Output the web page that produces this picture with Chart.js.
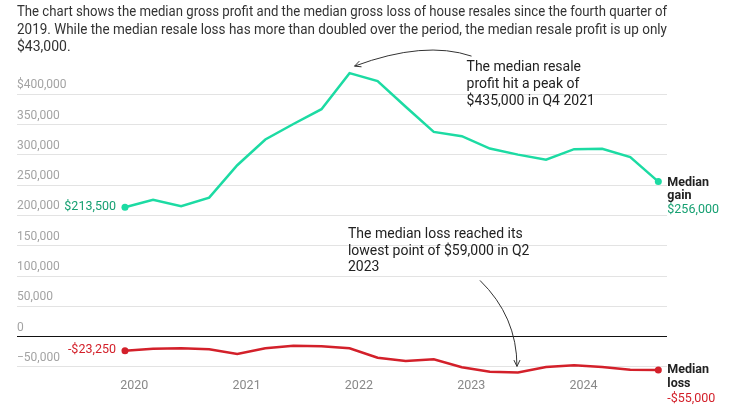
<!DOCTYPE html>
<html>
<head>
<meta charset="utf-8">
<script src="https://cdn.jsdelivr.net/npm/chart.js@4"></script>
<style>
  html, body { margin: 0; padding: 0; background: #fff; }
  #wrap { width: 738px; height: 412px; position: relative; }
</style>
</head>
<body>
<div id="wrap"><canvas id="myChart" width="738" height="412"></canvas></div>
<script>
// quarterly data, Q4 2019 .. Q3 2024
const quarters = ['Q4 2019', 'Q1 2020', 'Q2 2020', 'Q3 2020', 'Q4 2020', 'Q1 2021', 'Q2 2021', 'Q3 2021',
    'Q4 2021', 'Q1 2022', 'Q2 2022', 'Q3 2022', 'Q4 2022', 'Q1 2023', 'Q2 2023', 'Q3 2023',
    'Q4 2023', 'Q1 2024', 'Q2 2024', 'Q3 2024'];
const medianGain = [213500, 226000, 215500, 229500, 283000, 325500, 351000, 375500,
    435000, 422000, 379500, 338000, 331000, 310500, 300500, 292000,
    309500, 310000, 296500, 256000];
const medianLoss = [-23250, -19800, -19300, -20900, -28600, -19300, -14900, -16000,
    -19300, -34700, -40100, -37400, -50600, -57800, -59000, -50000,
    -47400, -50000, -54500, -55000];
const yTicks = [-50000, 0, 50000, 100000, 150000, 200000, 250000, 300000, 350000, 400000];
const yTickLabels = ['\u221250,000', '0', '50,000', '100,000', '150,000', '200,000', '250,000', '300,000', '350,000', '$400,000'];
const xTicks = [2020, 2021, 2022, 2023, 2024];
const xTickLabels = ['2020', '2021', '2022', '2023', '2024'];

const title = [
    'The chart shows the median gross profit and the median gross loss of house resales since the fourth quarter of',
    '2019. While the median resale loss has more than doubled over the period, the median resale profit is up only',
    '$43,000.'
];

const GREEN = '#1cdba3';
const GREEN_TXT = '#16a072';
const RED = '#d3202a';
const FONT = 'Roboto, "Noto Sans", sans-serif';

// quarter -> position on the year axis (last month of the quarter)
function quarterPos(q) {
    const parts = q.split(' ');
    const n = parseInt(parts[0].substring(1));
    return parseInt(parts[1]) + (3 * n - 1) / 12;
}
const gainPts = quarters.map((q, i) => ({ x: quarterPos(q), y: medianGain[i] }));
const lossPts = quarters.map((q, i) => ({ x: quarterPos(q), y: medianLoss[i] }));

function fmt(v) {
    const s = '$' + Math.abs(v).toLocaleString('en-US');
    return v < 0 ? '-' + s : s;
}

function lines(ctx, arr, x, y, lh) {
    arr.forEach((t, i) => ctx.fillText(t, x, y + i * lh));
}

function arrowHead(ctx, x, y, ang) {
    const len = 7;
    ctx.beginPath();
    ctx.moveTo(x + len * Math.cos(ang - 0.45), y + len * Math.sin(ang - 0.45));
    ctx.lineTo(x, y);
    ctx.lineTo(x + len * Math.cos(ang + 0.45), y + len * Math.sin(ang + 0.45));
    ctx.stroke();
}

const labelsPlugin = {
    id: 'labelsPlugin',
    afterDatasetsDraw(chart) {
        const ctx = chart.ctx;
        const xs = chart.scales.x, ys = chart.scales.y;
        const last = quarters.length - 1;
        ctx.save();
        ctx.textBaseline = 'middle';

        // start values
        ctx.font = '12.5px ' + FONT;
        ctx.textAlign = 'right';
        ctx.fillStyle = GREEN_TXT;
        ctx.fillText(fmt(medianGain[0]), xs.getPixelForValue(gainPts[0].x) - 9, ys.getPixelForValue(medianGain[0]));
        ctx.fillStyle = RED;
        ctx.fillText(fmt(medianLoss[0]), xs.getPixelForValue(lossPts[0].x) - 9, ys.getPixelForValue(medianLoss[0]) - 1);

        // end labels
        const ex = xs.getPixelForValue(gainPts[last].x) + 9;
        const gy = ys.getPixelForValue(medianGain[last]) + 1;
        const ly = ys.getPixelForValue(medianLoss[last]);
        ctx.textAlign = 'left';
        ctx.font = 'bold 12.5px ' + FONT;
        ctx.fillStyle = '#222';
        lines(ctx, ['Median', 'gain'], ex, gy, 13.5);
        lines(ctx, ['Median', 'loss'], ex, ly, 14);
        ctx.font = '12.5px ' + FONT;
        ctx.fillStyle = GREEN_TXT;
        ctx.fillText(fmt(medianGain[last]), ex, gy + 27);
        ctx.fillStyle = RED;
        ctx.fillText(fmt(medianLoss[last]), ex, ly + 28.5);

        // peak note
        const pk = medianGain.indexOf(Math.max(...medianGain));
        const px = xs.getPixelForValue(gainPts[pk].x);
        const py = ys.getPixelForValue(medianGain[pk]);
        ctx.font = '14px ' + FONT;
        ctx.fillStyle = '#222';
        lines(ctx, ['The median resale', 'profit hit a peak of', '$435,000 in Q4 2021'], px + 117, py - 6, 17.2);
        ctx.strokeStyle = '#333';
        ctx.lineWidth = 1;
        const tx = px + 5, ty = py - 7;
        ctx.beginPath();
        ctx.moveTo(px + 122, py - 17);
        ctx.quadraticCurveTo(px + 75, py - 33, tx, ty);
        ctx.stroke();
        arrowHead(ctx, tx, ty, Math.atan2(-33 - (-7), 75 - 5));

        // low note
        const lo = medianLoss.indexOf(Math.min(...medianLoss));
        const lx = xs.getPixelForValue(lossPts[lo].x);
        const lyy = ys.getPixelForValue(medianLoss[lo]);
        ctx.fillStyle = '#222';
        lines(ctx, ['The median loss reached its', 'lowest point of $59,000 in Q2', '2023'], lx - 170, lyy - 138, 16.7);
        ctx.beginPath();
        const ax = lx - 1, ay = lyy - 6;
        ctx.moveTo(lx - 38, lyy - 92);
        ctx.quadraticCurveTo(lx - 1, lyy - 56, ax, ay);
        ctx.stroke();
        arrowHead(ctx, ax, ay, -Math.PI / 2);
        ctx.restore();
    }
};

const ctx = document.getElementById('myChart').getContext('2d');
new Chart(ctx, {
    type: 'line',
    data: {
        datasets: [{
            label: 'Median gain',
            data: gainPts,
            borderColor: GREEN,
            backgroundColor: GREEN,
            borderWidth: 2.5,
            tension: 0,
            clip: false,
            pointRadius: gainPts.map((p, i) => (i === 0 || i === gainPts.length - 1) ? 3.5 : 0),
            pointBorderWidth: 0,
            pointHoverRadius: 0
        }, {
            label: 'Median loss',
            data: lossPts,
            borderColor: RED,
            backgroundColor: RED,
            borderWidth: 2.5,
            tension: 0,
            clip: false,
            pointRadius: lossPts.map((p, i) => (i === 0 || i === lossPts.length - 1) ? 3.5 : 0),
            pointBorderWidth: 0,
            pointHoverRadius: 0
        }]
    },
    options: {
        responsive: false,
        animation: false,
        layout: { padding: { left: 17, right: 71, top: 0, bottom: 14 } },
        plugins: {
            legend: { display: false },
            tooltip: { enabled: false },
            title: {
                display: true,
                text: title,
                align: 'start',
                color: '#333',
                font: { family: FONT, size: 14, weight: 'normal', lineHeight: 1.24 },
                padding: { top: 4, bottom: 11 }
            }
        },
        scales: {
            x: {
                type: 'linear',
                min: 2018.955,
                max: 2024.744,
                grid: { display: false, drawTicks: false },
                border: { display: false },
                afterBuildTicks: axis => { axis.ticks = xTicks.map(v => ({ value: v })); },
                ticks: {
                    color: '#888',
                    padding: 5,
                    maxRotation: 0,
                    font: { family: FONT, size: 12.5 },
                    callback: v => xTickLabels[xTicks.indexOf(v)]
                }
            },
            y: {
                min: -60000,
                max: 445000,
                grid: {
                    drawTicks: false,
                    color: c => c.tick && c.tick.value === 0 ? '#111' : '#e3e3e3',
                    lineWidth: 1
                },
                border: { display: false },
                afterBuildTicks: axis => { axis.ticks = yTicks.map(v => ({ value: v })); },
                ticks: {
                    mirror: true,
                    padding: 0,
                    labelOffset: -9,
                    color: '#a3a3a3',
                    font: { family: FONT, size: 12 },
                    callback: v => yTickLabels[yTicks.indexOf(v)]
                }
            }
        }
    },
    plugins: [labelsPlugin]
});
</script>
</body>
</html>
